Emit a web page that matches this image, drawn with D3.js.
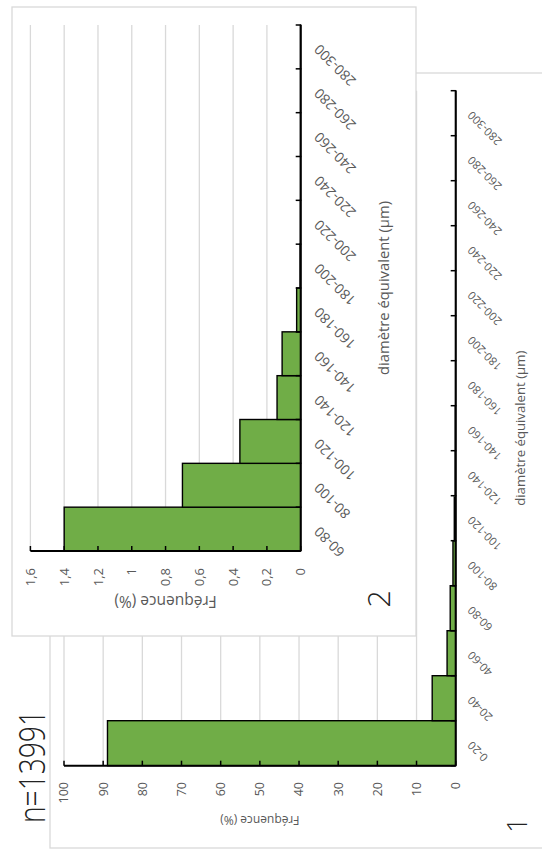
<!DOCTYPE html>
<html>
<head>
<meta charset="utf-8">
<script src="https://cdn.jsdelivr.net/npm/d3@7"></script>
<style>
  body { margin: 0; background: #fff; }
  text { font-family: "Open Sans", sans-serif; fill: #595959; }
</style>
</head>
<body>
<script>
var w = 542, h = 853;

// data: size classes and frequencies (%)
var cats1 = ["0-20", "20-40", "40-60", "60-80", "80-100", "100-120", "120-140", "140-160",
             "160-180", "180-200", "200-220", "220-240", "240-260", "260-280", "280-300"];
var freq1 = [88.9, 6.0, 2.2, 1.4, 0.7, 0.36, 0.14, 0.11, 0.024, 0.004, 0.002, 0.001, 0.001, 0.001, 0.001];
var ticks1 = [0, 10, 20, 30, 40, 50, 60, 70, 80, 90, 100];
var tickLabels1 = ["0", "10", "20", "30", "40", "50", "60", "70", "80", "90", "100"];

// zoom on the tail (60-300)
var cats2 = ["60-80", "80-100", "100-120", "120-140", "140-160", "160-180", "180-200",
             "200-220", "220-240", "240-260", "260-280", "280-300"];
var freq2 = [1.4, 0.7, 0.36, 0.14, 0.11, 0.024, 0.004, 0.002, 0.001, 0.001, 0.001, 0.001];
var ticks2 = [0, 0.2, 0.4, 0.6, 0.8, 1, 1.2, 1.4, 1.6];
var tickLabels2 = ["0", "0,2", "0,4", "0,6", "0,8", "1", "1,2", "1,4", "1,6"];

var svg = d3.select("body").append("svg")
  .attr("width", w)
  .attr("height", h);

// the chart is turned a quarter turn: categories run upward, values run leftward
function drawHist(g, o) {
  var x = d3.scaleLinear().domain([0, o.max]).range([o.x0, o.x1]);
  var y = d3.scaleBand().domain(o.cats).range([o.yBottom, o.yTop]);

  // gridlines
  g.selectAll(".grid")
    .data(o.ticks.slice(1))
    .enter()
    .append("line")
    .attr("x1", function(d) { return x(d); })
    .attr("x2", function(d) { return x(d); })
    .attr("y1", o.yTop)
    .attr("y2", o.yBottom)
    .attr("stroke", "#d9d9d9")
    .attr("stroke-width", 1.3);

  // bars
  g.selectAll(".bar")
    .data(o.vals)
    .enter()
    .append("rect")
    .attr("x", function(d) { return x(d); })
    .attr("y", function(d, i) { return y(o.cats[i]); })
    .attr("width", function(d) { return x(0) - x(d); })
    .attr("height", y.bandwidth())
    .attr("fill", "#70ad47")
    .attr("stroke", "#000")
    .attr("stroke-width", 1.4);

  // value axis
  g.append("line")
    .attr("x1", x(0)).attr("x2", x(o.max))
    .attr("y1", o.yBottom).attr("y2", o.yBottom)
    .attr("stroke", "#000").attr("stroke-width", 2);
  g.selectAll(".vtick")
    .data(o.ticks)
    .enter()
    .append("line")
    .attr("x1", function(d) { return x(d); })
    .attr("x2", function(d) { return x(d); })
    .attr("y1", o.yBottom)
    .attr("y2", o.yBottom - 5)
    .attr("stroke", "#000").attr("stroke-width", 1.5);
  g.selectAll(".vlab")
    .data(o.ticks)
    .enter()
    .append("text")
    .attr("transform", function(d) { return "translate(" + x(d) + "," + o.labY + ") rotate(-90)"; })
    .attr("text-anchor", "end")
    .attr("dy", "0.35em")
    .style("font-size", o.tickSize + "px")
    .text(function(d, i) { return o.tickLabels[i]; });

  // category axis
  g.append("line")
    .attr("x1", o.x0).attr("x2", o.x0)
    .attr("y1", o.yBottom).attr("y2", o.yTop)
    .attr("stroke", "#000").attr("stroke-width", 2);
  var bounds = o.cats.map(function(c) { return y(c); }).concat([o.yBottom]);
  g.selectAll(".ctick")
    .data(bounds)
    .enter()
    .append("line")
    .attr("x1", o.x0 - 5).attr("x2", o.x0)
    .attr("y1", function(d) { return d; })
    .attr("y2", function(d) { return d; })
    .attr("stroke", "#000").attr("stroke-width", 1.5);
  g.selectAll(".clab")
    .data(o.cats)
    .enter()
    .append("text")
    .attr("transform", function(d) {
      return "translate(" + (o.x0 + o.catPad) + "," + (y(d) + y.bandwidth() / 2) + ") rotate(-135)";
    })
    .attr("text-anchor", "end")
    .attr("dy", "0.35em")
    .style("font-size", o.catSize + "px")
    .text(function(d) { return d; });

  // axis titles
  g.append("text")
    .attr("transform", "translate(" + ((o.x0 + o.x1) / 2) + "," + o.yTitleY + ") rotate(180)")
    .attr("text-anchor", "middle")
    .attr("dy", "0.35em")
    .style("font-size", o.yTitleSize + "px")
    .text("Fréquence (%)");
  g.append("text")
    .attr("transform", "translate(" + o.xTitleX + "," + ((o.yBottom + o.yTop) / 2) + ") rotate(-90)")
    .attr("text-anchor", "middle")
    .attr("dy", "0.35em")
    .style("font-size", o.xTitleSize + "px")
    .text("diamètre équivalent (µm)");
}

// panel 1 (back)
svg.append("rect")
  .attr("x", 50).attr("y", 73)
  .attr("width", 540).attr("height", 775)
  .attr("fill", "#fff")
  .attr("stroke", "#d9d9d9")
  .attr("stroke-width", 1.3);

var g1 = svg.append("g");
drawHist(g1, {
  cats: cats1, vals: freq1, ticks: ticks1, tickLabels: tickLabels1, max: 100,
  x0: 455.7, x1: 64, yBottom: 765.7, yTop: 90.7,
  labY: 782, tickSize: 12.5, catPad: 14, catSize: 11.3,
  yTitleY: 820, xTitleX: 520, yTitleSize: 12, xTitleSize: 13.2
});

g1.append("text")
  .attr("transform", "translate(45,766.5) rotate(-90)")
  .attr("text-anchor", "middle")
  .attr("textLength", 113)
  .attr("lengthAdjust", "spacingAndGlyphs")
  .style("font-size", "36px")
  .style("font-weight", 300)
  .style("fill", "#222")
  .text("n=13991");

g1.append("text")
  .attr("transform", "translate(527,825) rotate(-90)")
  .attr("text-anchor", "middle")
  .style("font-size", "28px")
  .style("font-weight", 300)
  .style("fill", "#222")
  .text("1");

// panel 2 (front, zoom on the tail)
svg.append("rect")
  .attr("x", 12).attr("y", 7)
  .attr("width", 404).attr("height", 629)
  .attr("fill", "#fff")
  .attr("stroke", "#d9d9d9")
  .attr("stroke-width", 1.3);

var g2 = svg.append("g");
drawHist(g2, {
  cats: cats2, vals: freq2, ticks: ticks2, tickLabels: tickLabels2, max: 1.6,
  x0: 300.7, x1: 30.4, yBottom: 551, yTop: 25,
  labY: 568, tickSize: 13, catPad: 16, catSize: 13.8,
  yTitleY: 601, xTitleX: 384, yTitleSize: 15.5, xTitleSize: 14.8
});

g2.append("text")
  .attr("transform", "translate(390,599) rotate(-90)")
  .attr("text-anchor", "middle")
  .style("font-size", "31px")
  .style("font-weight", 300)
  .style("fill", "#222")
  .text("2");
</script>
</body>
</html>
